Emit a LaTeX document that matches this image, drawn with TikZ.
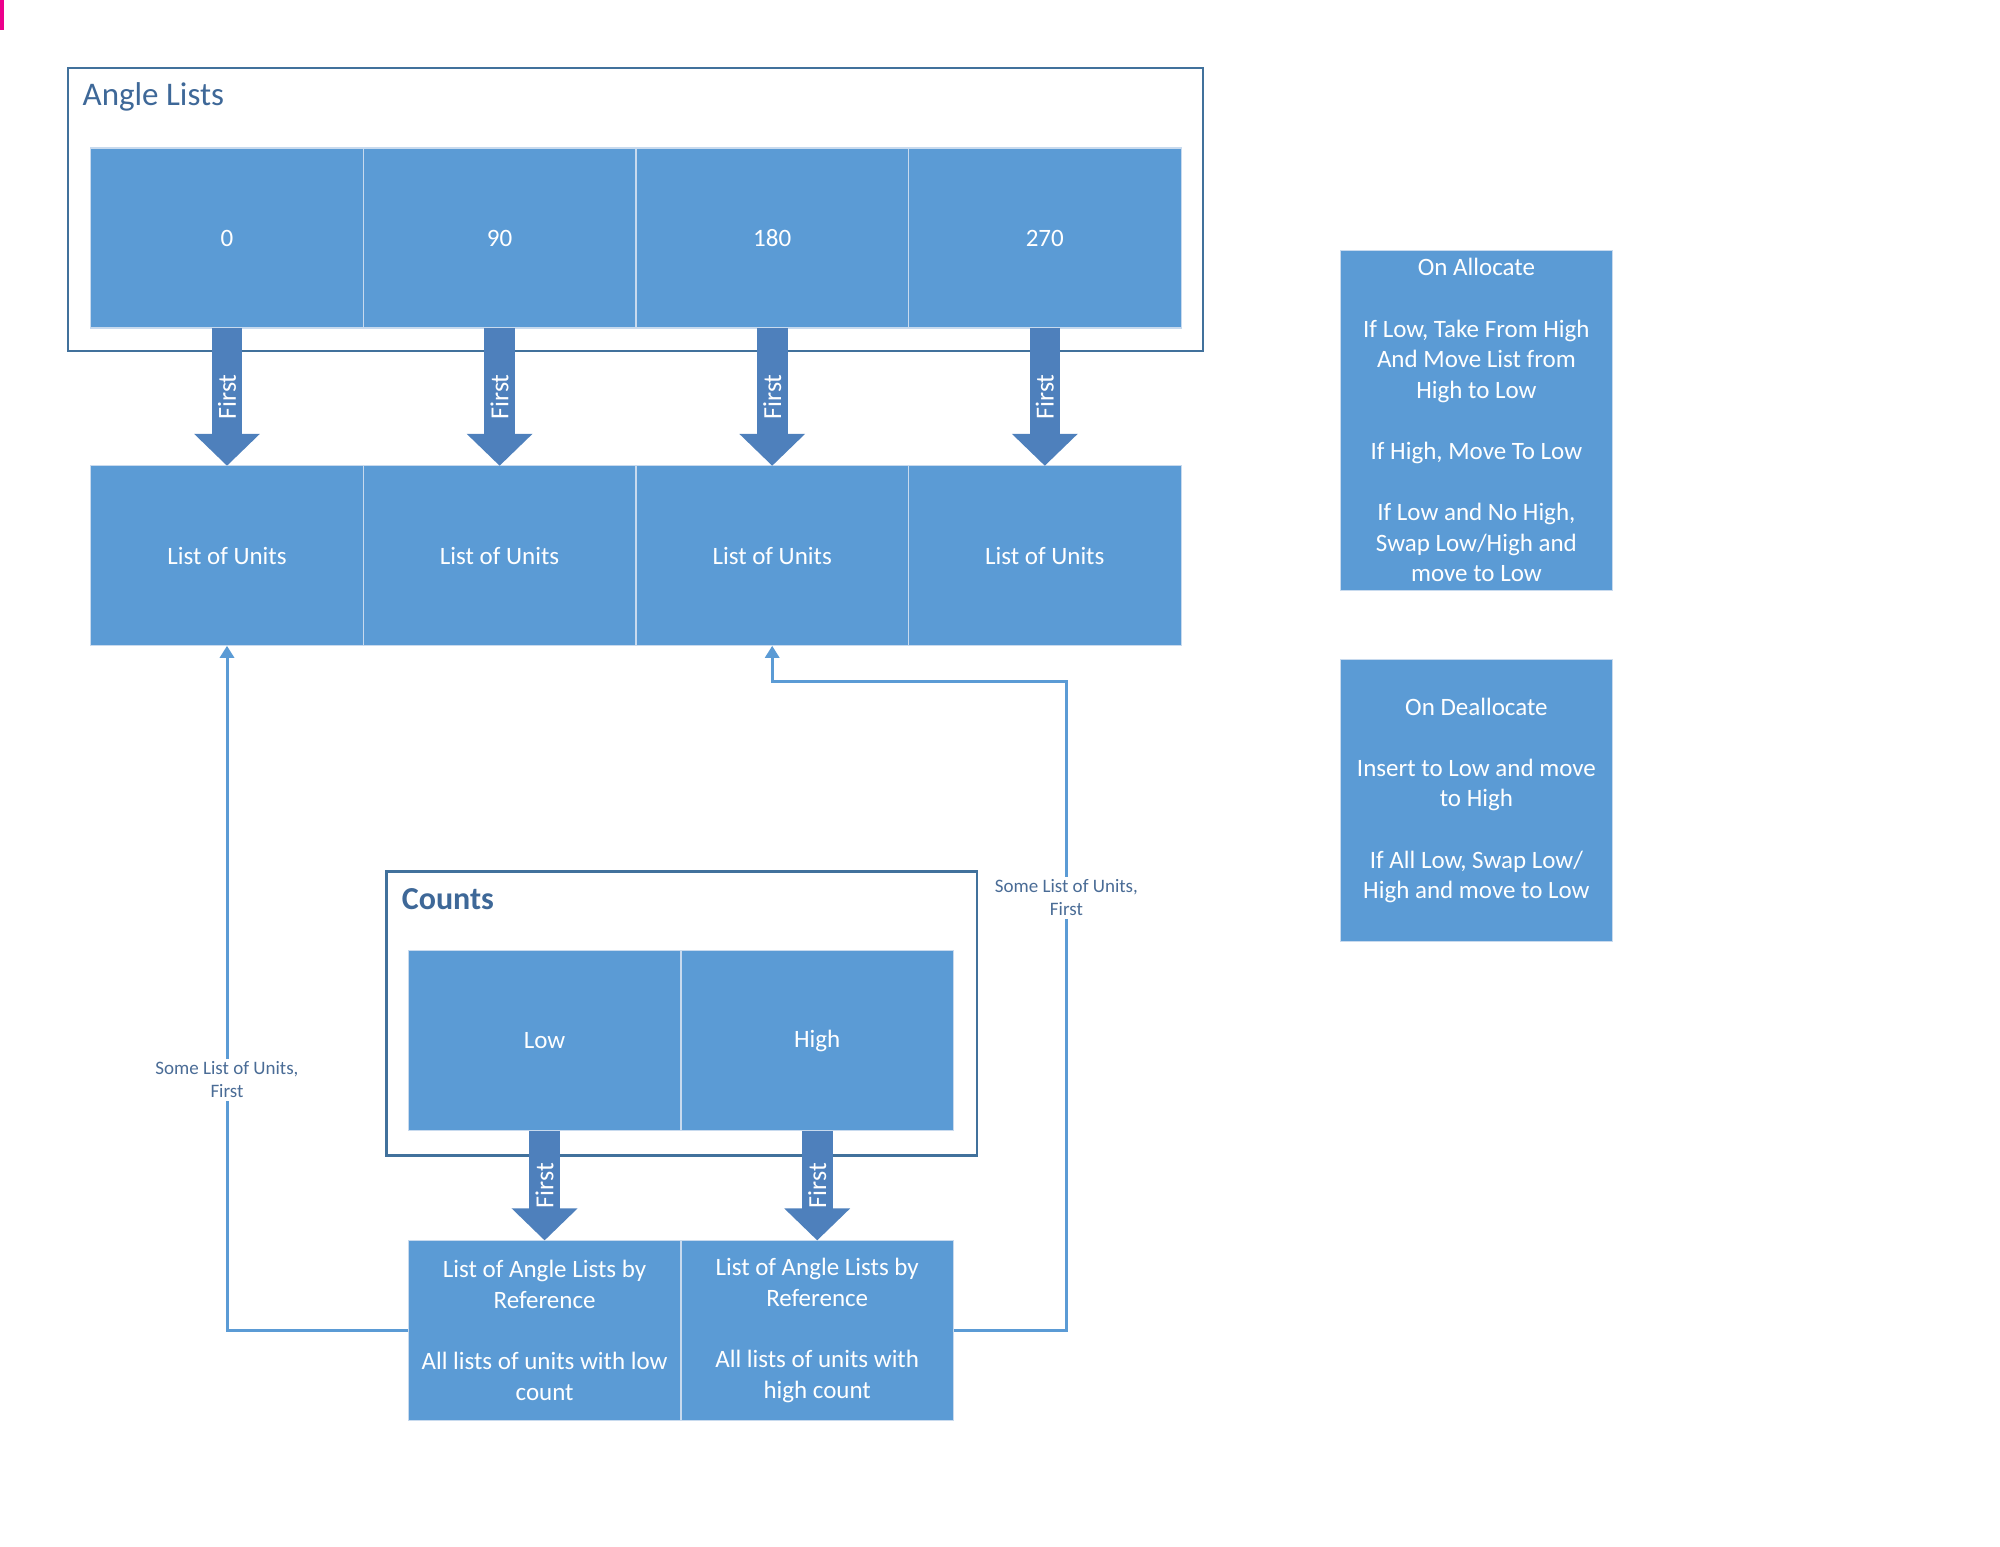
\documentclass[tikz,border=0pt]{standalone}
\usepackage{fontspec}
\setmainfont{Carlito}
\usetikzlibrary{calc,positioning,arrows.meta}
\definecolor{CellBlue}{HTML}{5B9BD5}
\definecolor{CellEdge}{HTML}{C8DAEE}
\definecolor{ArrowBlue}{HTML}{4E80BC}
\definecolor{FrameBlue}{HTML}{41719C}
\definecolor{TitleText}{HTML}{3E6898}
\definecolor{LabelText}{HTML}{4A6C96}

\begin{document}
\begin{tikzpicture}[x=1pt,y=-1pt,font=\fontsize{12.5pt}{15.3pt}\selectfont,
      cell/.style={fill=CellBlue,draw=CellEdge,line width=0.6pt,text=white,minimum width=136.3pt,minimum height=90pt,align=center,inner sep=2pt,outer sep=0pt},
      frame/.style={draw=FrameBlue,line width=1pt,fill=white,inner sep=0pt},
      ttl/.style={anchor=west,text=TitleText,font=\fontsize{16.5pt}{19pt}\selectfont},
      farr/.style={-{Triangle[length=16pt,width=32pt]},line width=15.3pt,color=ArrowBlue},
      conn/.style={-{Triangle[length=6pt,width=7pt]},line width=1.5pt,color=CellBlue},
      lbl/.style={fill=white,text=LabelText,font=\fontsize{9.5pt}{11.6pt}\selectfont,align=center,inner sep=1.5pt},
      first/.style={rotate=90,text=white,font=\fontsize{13pt}{15pt}\selectfont}]
      \useasboundingbox (0,0) rectangle (1000,773);
      \fill[magenta] (0,0) rectangle (2,15);
      % angle lists
      \node[frame,minimum width=567.6pt,minimum height=141.6pt] (alf) at (317.6,104.6) {};
      \node[ttl] (alt) at ($(alf.north west)+(4.5,15.3)$) {Angle Lists};
      \node[cell] (a0) at (113.5,119) {0};
      \node[cell,right=0pt of a0] (a90) {90};
      \node[cell,right=0pt of a90] (a180) {180};
      \node[cell,right=0pt of a180] (a270) {270};
      \node[cell,below=68.9pt of a0] (l0) {List of Units};
      \node[cell,below=68.9pt of a90] (l90) {List of Units};
      \node[cell,below=68.9pt of a180] (l180) {List of Units};
      \node[cell,below=68.9pt of a270] (l270) {List of Units};
      \draw[farr] (a0.south) -- (l0.north) node[midway,first] {First};
      \draw[farr] (a90.south) -- (l90.north) node[midway,first] {First};
      \draw[farr] (a180.south) -- (l180.north) node[midway,first] {First};
      \draw[farr] (a270.south) -- (l270.north) node[midway,first] {First};
      % rules
      \node[cell,minimum width=135.8pt,minimum height=170.3pt] (alloc) at (738.2,210.2) {On Allocate\\[15.3pt]If Low, Take From High\\And Move List from\\High to Low\\[15.3pt]If High, Move To Low\\[15.3pt]If Low and No High,\\Swap Low/High and\\move to Low};
      \node[cell,minimum width=135.8pt,minimum height=141pt] (dealloc) at (738.2,400.2) {On Deallocate\\[15.3pt]Insert to Low and move\\to High\\[15.3pt]If All Low, Swap Low/\\High and move to Low};
      % counts
      \node[frame,line width=1.4pt,minimum width=295.2pt,minimum height=142.2pt] (cf) at (340.9,506.7) {};
      \node[ttl,font=\fontsize{16pt}{19pt}\selectfont\bfseries] (ct) at ($(cf.north west)+(4.8,14.6)$) {Counts};
      \node[cell] (low) at (272.3,520.4) {Low};
      \node[cell,right=0pt of low] (high) {High};
      \node[cell,below=54.8pt of low] (llow) {List of Angle Lists by\\Reference\\[15.3pt]All lists of units with low\\count};
      \node[cell,below=54.8pt of high] (lhigh) {List of Angle Lists by\\Reference\\[15.3pt]All lists of units with\\high count};
      \draw[farr] (low.south) -- (llow.north) node[midway,first] {First};
      \draw[farr] (high.south) -- (lhigh.north) node[midway,first] {First};
      % back references
      \coordinate (bend) at (533.2,340.5);
      \draw[conn] (llow.west) -| node[pos=0.683,lbl] {Some List of Units,\\First} (l0.south);
      \draw[conn] (lhigh.east) -| node[pos=0.833,lbl] {Some List of Units,\\First} (bend) -| (l180.south);
    \end{tikzpicture}
\end{document}
